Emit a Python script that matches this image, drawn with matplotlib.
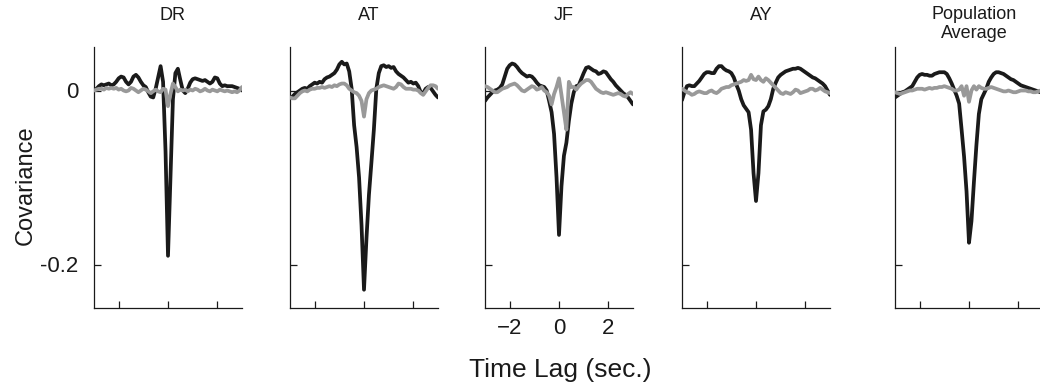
import numpy as np
import matplotlib
matplotlib.use("Agg")
import matplotlib.pyplot as plt
from matplotlib.transforms import blended_transform_factory

plt.rcParams['font.family'] = ['Liberation Sans', 'DejaVu Sans']

# time lag grid (sec.)
time_lag = np.round(np.arange(-3.0, 3.0001, 0.1), 2)

titles = ["DR", "AT", "JF", "AY", "Population\nAverage"]

dr_black = [0.000, 0.002, 0.005, 0.007, 0.006, 0.007, 0.008, 0.006, 0.007, 0.010,
            0.014, 0.016, 0.015, 0.010, 0.007, 0.010, 0.016, 0.018, 0.015, 0.010,
            0.006, 0.004, -0.002, -0.007, -0.008, 0.002, 0.015, 0.028, 0.010, -0.070,
            -0.190, -0.100, -0.010, 0.020, 0.025, 0.012, 0.000, -0.003, 0.002, 0.009,
            0.013, 0.014, 0.013, 0.012, 0.011, 0.012, 0.010, 0.008, 0.010, 0.015,
            0.014, 0.008, 0.005, 0.006, 0.005, 0.005, 0.005, 0.004, 0.003, 0.002,
            0.000]
dr_gray = [0.000, 0.001, 0.002, 0.002, 0.001, 0.003, 0.002, 0.003, 0.002, 0.003,
           0.001, 0.002, 0.000, -0.001, 0.000, 0.003, 0.002, 0.000, -0.002, 0.000,
           0.002, 0.001, -0.001, -0.003, -0.001, 0.001, -0.001, -0.002, 0.002, 0.001,
           -0.018, -0.004, 0.008, 0.004, -0.001, 0.001, 0.000, 0.001, -0.001, 0.001,
           0.000, 0.002, 0.001, -0.001, 0.000, 0.002, 0.000, -0.001, 0.001, 0.000,
           -0.001, 0.001, 0.000, -0.001, 0.000, -0.001, -0.002, -0.001, -0.002, 0.000,
           0.004]

at_black = [-0.009, -0.007, -0.004, -0.002, 0.000, 0.002, 0.003, 0.002, 0.005, 0.007,
            0.009, 0.008, 0.010, 0.009, 0.013, 0.015, 0.016, 0.018, 0.020, 0.024,
            0.030, 0.033, 0.030, 0.031, 0.022, 0.002, -0.040, -0.065, -0.100, -0.155,
            -0.229, -0.170, -0.120, -0.083, -0.045, 0.002, 0.020, 0.028, 0.029, 0.027,
            0.028, 0.026, 0.027, 0.022, 0.019, 0.017, 0.015, 0.012, 0.009, 0.010,
            0.008, 0.009, 0.005, -0.002, -0.003, 0.002, 0.004, 0.003, -0.001, -0.005,
            -0.008]
at_gray = [-0.008, -0.009, -0.009, -0.006, -0.003, -0.001, 0.000, -0.001, 0.001, 0.002,
           0.002, 0.003, 0.003, 0.004, 0.003, 0.004, 0.005, 0.004, 0.006, 0.005,
           0.007, 0.008, 0.008, 0.006, 0.002, 0.000, -0.002, -0.003, -0.006, -0.012,
           -0.030, -0.010, -0.003, 0.000, 0.001, 0.002, 0.004, 0.005, 0.006, 0.005,
           0.004, 0.003, 0.002, 0.004, 0.008, 0.007, 0.004, 0.002, 0.002, 0.002,
           0.001, 0.001, 0.000, -0.003, -0.005, -0.001, 0.003, 0.006, 0.006, 0.005,
           0.002]

jf_black = [-0.012, -0.008, -0.005, -0.002, 0.000, 0.001, 0.003, 0.007, 0.016, 0.025,
            0.029, 0.031, 0.030, 0.027, 0.023, 0.020, 0.018, 0.016, 0.017, 0.016,
            0.013, 0.009, 0.006, 0.005, 0.004, 0.000, -0.012, -0.025, -0.050, -0.100,
            -0.166, -0.110, -0.075, -0.060, -0.035, -0.015, -0.002, 0.005, 0.006, 0.013,
            0.020, 0.026, 0.027, 0.025, 0.023, 0.022, 0.019, 0.020, 0.022, 0.021,
            0.017, 0.013, 0.010, 0.006, 0.003, 0.000, -0.003, -0.005, -0.008, -0.012,
            -0.016]
jf_gray = [0.005, 0.004, 0.002, 0.000, -0.002, -0.002, 0.000, 0.002, 0.003, 0.004,
           0.006, 0.007, 0.008, 0.006, 0.003, 0.000, -0.001, 0.001, 0.003, 0.005,
           0.004, 0.001, 0.002, 0.004, 0.000, -0.002, -0.006, -0.016, -0.004, 0.004,
           0.014, -0.005, -0.025, -0.045, 0.010, 0.004, 0.004, 0.001, 0.005, 0.008,
           0.010, 0.012, 0.012, 0.010, 0.006, 0.002, 0.000, -0.002, -0.003, -0.002,
           -0.003, -0.004, -0.005, -0.004, -0.003, -0.004, -0.006, -0.007, -0.004, -0.002,
           -0.004]

ay_black = [-0.011, -0.002, 0.005, 0.006, 0.005, 0.005, 0.008, 0.011, 0.015, 0.019,
            0.021, 0.021, 0.020, 0.020, 0.025, 0.028, 0.028, 0.025, 0.023, 0.022,
            0.020, 0.015, 0.007, 0.000, -0.010, -0.017, -0.021, -0.025, -0.045, -0.095,
            -0.127, -0.095, -0.040, -0.024, -0.022, -0.018, -0.010, 0.002, 0.009, 0.015,
            0.018, 0.020, 0.022, 0.023, 0.024, 0.025, 0.025, 0.026, 0.025, 0.023,
            0.021, 0.019, 0.017, 0.015, 0.014, 0.012, 0.010, 0.008, 0.005, 0.000,
            -0.005]
ay_gray = [0.002, 0.000, -0.002, -0.003, -0.005, -0.004, -0.002, -0.001, -0.002, -0.003,
           -0.003, -0.001, 0.000, -0.002, -0.003, -0.001, 0.002, 0.003, 0.004, 0.004,
           0.006, 0.007, 0.008, 0.009, 0.010, 0.012, 0.011, 0.012, 0.018, 0.013,
           0.012, 0.016, 0.012, 0.010, 0.014, 0.012, 0.009, 0.006, 0.003, 0.000,
           -0.003, -0.004, -0.002, -0.003, -0.004, -0.002, 0.001, 0.000, -0.003, -0.002,
           -0.001, 0.000, 0.002, 0.002, 0.000, 0.001, 0.003, 0.001, -0.001, -0.002,
           -0.003]

pop_black = [-0.008, -0.006, -0.004, -0.002, -0.001, 0.001, 0.003, 0.005, 0.010, 0.015,
             0.018, 0.019, 0.018, 0.018, 0.017, 0.017, 0.019, 0.020, 0.021, 0.021,
             0.021, 0.019, 0.014, 0.008, 0.001, -0.006, -0.015, -0.045, -0.076, -0.116,
             -0.175, -0.150, -0.105, -0.063, -0.027, -0.010, -0.004, 0.002, 0.010, 0.015,
             0.019, 0.021, 0.021, 0.020, 0.019, 0.017, 0.015, 0.013, 0.012, 0.010,
             0.008, 0.006, 0.005, 0.004, 0.003, 0.002, 0.001, 0.000, -0.001, -0.002,
             -0.003]
pop_gray = [-0.002, -0.003, -0.004, -0.003, -0.002, -0.001, 0.000, 0.000, 0.001, 0.002,
            0.002, 0.002, 0.001, 0.002, 0.003, 0.002, 0.003, 0.003, 0.004, 0.004,
            0.005, 0.004, 0.003, 0.002, 0.000, 0.000, 0.001, 0.005, -0.006, 0.005,
            -0.013, 0.000, 0.005, 0.001, 0.005, 0.003, 0.002, 0.002, 0.003, 0.004,
            0.003, 0.002, 0.001, 0.000, -0.001, -0.001, 0.000, -0.001, -0.002, -0.002,
            -0.001, 0.000, 0.000, 0.000, -0.001, -0.001, -0.002, -0.002, -0.001, 0.000,
            -0.001]

black_series = [dr_black, at_black, jf_black, ay_black, pop_black]
gray_series = [dr_gray, at_gray, jf_gray, ay_gray, pop_gray]

x_ticks = [-2, 0, 2]
x_tick_labels = ["\u22122", "0", "2"]
y_ticks = [-0.2, 0]
y_tick_labels = ["-0.2", "0"]

W, H = 1040, 391
fig = plt.figure(figsize=(W / 100, H / 100), dpi=100)

lefts = [94, 290, 485, 682, 895]
ax_w = 148
top_px, bot_px = 47, 308

for i in range(5):
    ax = fig.add_axes([lefts[i] / W, 1 - bot_px / H, ax_w / W, (bot_px - top_px) / H])
    ax.plot(time_lag, black_series[i], color='#1a1a1a', lw=2.7, solid_joinstyle='round',
            solid_capstyle='round', zorder=2)
    ax.plot(time_lag, gray_series[i], color='#999999', lw=2.7, solid_joinstyle='round',
            solid_capstyle='round', zorder=3)
    ax.set_xlim(-3, 3)
    ax.set_ylim(-0.25, 0.05)
    for s in ['top', 'right']:
        ax.spines[s].set_visible(False)
    for s in ['left', 'bottom']:
        ax.spines[s].set_linewidth(0.9)
        ax.spines[s].set_color('#1a1a1a')
    ax.set_xticks(x_ticks)
    ax.set_yticks(y_ticks)
    ax.tick_params(direction='in', length=5, width=0.9, color='#1a1a1a',
                   labelsize=16, labelcolor='#1a1a1a')
    ax.tick_params(axis='y', pad=11)
    ax.tick_params(axis='x', pad=7)
    if i == 0:
        ax.set_yticklabels(y_tick_labels)
    else:
        ax.set_yticklabels([])
    if i == 2:
        ax.set_xticklabels(x_tick_labels)
    else:
        ax.set_xticklabels([])
    trans = blended_transform_factory(ax.transData, fig.transFigure)
    title_y = 1 - (24 if "\n" in titles[i] else 15) / H
    ax.text(0.2, title_y, titles[i], transform=trans, ha='center', va='center',
            fontsize=13, color='#1a1a1a', linespacing=1.1)

fig.text(26 / W, 1 - 185 / H, "Covariance", rotation=90, ha='center', va='center',
         fontsize=17, color='#1a1a1a')
fig.text(560 / W, 1 - 370 / H, "Time Lag (sec.)", ha='center', va='center',
         fontsize=19, color='#1a1a1a')

fig.savefig("out.png", dpi=100)
